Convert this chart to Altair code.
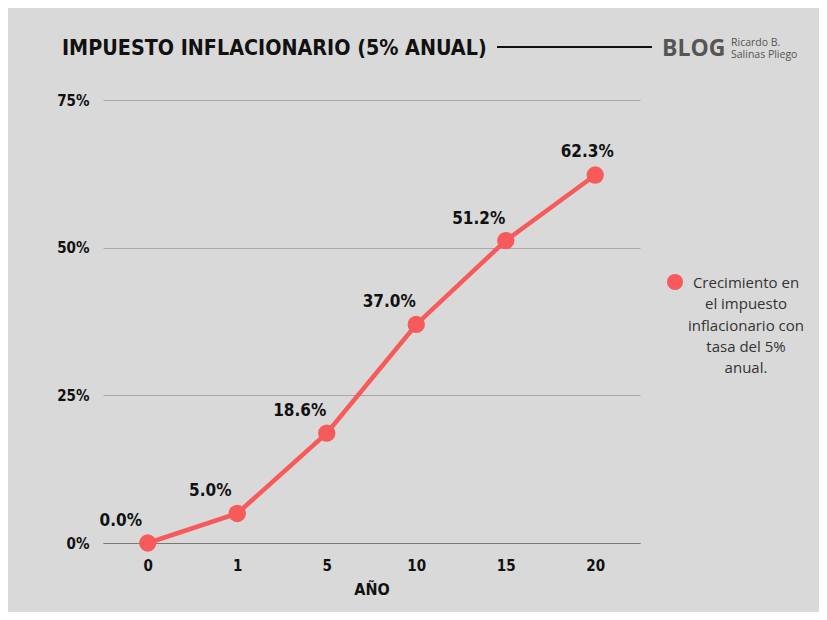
import altair as alt
import pandas as pd

years = ["0", "1", "5", "10", "15", "20"]
growth = [0.0, 0.050, 0.186, 0.370, 0.512, 0.623]
title_text = "IMPUESTO INFLACIONARIO (5% ANUAL)"
legend_lines = ["Crecimiento en", "el impuesto", "inflacionario con", "tasa del 5%", "anual."]
logo_lines = ["Ricardo B.", "Salinas Pliego"]

df = pd.DataFrame({"year": years, "value": growth})
df["idx"] = range(len(df))

RED = "#f75a5a"
BG = "#d9d9d9"
COND = "Liberation Sans Narrow, DejaVu Sans Condensed, sans-serif"
W, H = 537, 443

x_enc = alt.X("year:N", sort=years, scale=alt.Scale(type="point", padding=0.5),
              axis=alt.Axis(title="AÑO", labelAngle=0, labelFont=COND, labelFontSize=15,
                            labelFontWeight="bold", labelColor="#111", labelPadding=15,
                            titleFont=COND, titleFontSize=16, titleFontWeight="bold",
                            titleColor="#111", titlePadding=8, ticks=False,
                            domain=True, domainColor="#777", domainWidth=1, grid=False))
y_enc = alt.Y("value:Q", scale=alt.Scale(domain=[0, 0.75], nice=False),
              axis=alt.Axis(title=None, values=[0, 0.25, 0.5, 0.75], format=".0%",
                            labelFont=COND, labelFontSize=15, labelFontWeight="bold",
                            labelColor="#111", labelPadding=14, ticks=False, domain=False,
                            grid=True, gridColor="#a8a8a8", gridWidth=1))
xs = alt.X("year:N", sort=years)
ys = alt.Y("value:Q")

base = alt.Chart(df)
line = base.mark_line(color=RED, strokeWidth=4.5).encode(x=x_enc, y=y_enc)
pts = base.mark_circle(color=RED, size=300, opacity=1).encode(x=xs, y=ys)
lab_main = base.transform_filter("datum.idx < 5").mark_text(
    font=COND, fontSize=17, fontWeight="bold", color="#111", dx=-27, dy=-22
).encode(x=xs, y=ys, text=alt.Text("value:Q", format=".1%"))
lab_last = base.transform_filter("datum.idx == 5").mark_text(
    font=COND, fontSize=17, fontWeight="bold", color="#111", dx=-8, dy=-23
).encode(x=xs, y=ys, text=alt.Text("value:Q", format=".1%"))

one = alt.Chart(pd.DataFrame({"a": [0]}))
title = one.mark_text(text=title_text, font=COND, fontSize=21.3, fontWeight="bold",
                      color="#111", align="left", baseline="middle").encode(
    x=alt.value(-41), y=alt.value(-51))
rule = one.mark_rule(color="#111", strokeWidth=2).encode(
    x=alt.value(394), x2=alt.value(549), y=alt.value(-53))
blog = one.mark_text(text="BLOG", font="Open Sans", fontSize=23, fontWeight="bold",
                     color="#555", align="left", baseline="middle").encode(
    x=alt.value(559), y=alt.value(-51))
rb = one.mark_text(text=logo_lines, font="Open Sans", fontSize=10.5, color="#555",
                   align="left", baseline="top", lineHeight=12).encode(
    x=alt.value(628), y=alt.value(-62))
leg_dot = one.mark_circle(color=RED, size=260, opacity=1).encode(
    x=alt.value(572), y=alt.value(182))
leg_txt = one.mark_text(text=legend_lines, font="Open Sans", fontSize=15, color="#333",
                        align="center", baseline="top", lineHeight=21.3).encode(
    x=alt.value(643), y=alt.value(176))

chart = alt.layer(line, pts, lab_main, lab_last, title, rule, blog, rb, leg_dot, leg_txt).properties(
    width=W, height=H, background=BG,
    autosize=alt.AutoSizeParams(type="none"),
    padding={"left": 95, "top": 92, "right": 179, "bottom": 69},
).configure_view(stroke=None)

chart.save("out.html", embed_options={"renderer": "svg", "actions": False})
